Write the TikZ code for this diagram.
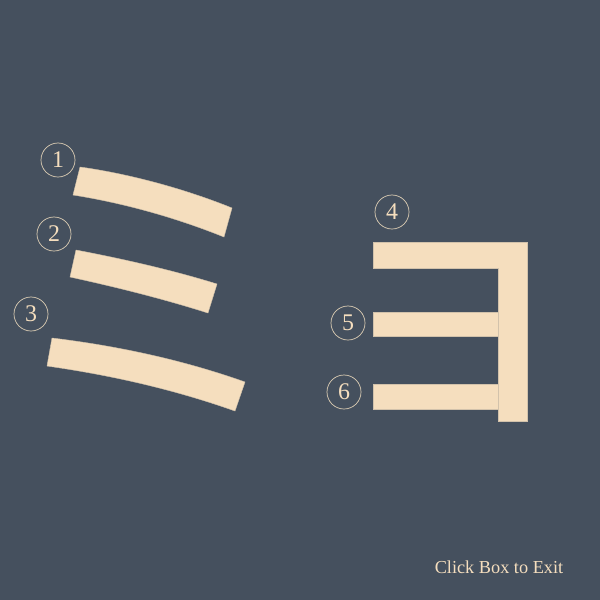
\documentclass[tikz,border=0pt]{standalone}
\usepackage{fontspec}
\setmainfont{Liberation Serif}
\usepackage{xcolor}
\usepackage{tikz}
\definecolor{slatebg}{RGB}{69,80,94}
\definecolor{wheatfill}{RGB}{245,222,190}
\definecolor{ringline}{RGB}{220,205,180}

\begin{document}
\begin{tikzpicture}[
  x=0.025cm, y=-0.025cm,
  stroke/.style = {fill=wheatfill, draw=wheatfill!80!slatebg, line width=0.3pt},
  num/.style    = {circle, draw=ringline, line width=0.5pt, text=wheatfill,
                   minimum size=0.85cm, inner sep=0pt,
                   font=\fontsize{17}{19}\selectfont},
  lab/.style    = {text=wheatfill, font=\fontsize{13}{15}\selectfont}
]
\fill[slatebg] (0,0) rectangle (600,600);
\useasboundingbox (0,0) rectangle (600,600);

%% ===== left: three slanted strokes =====
\draw[stroke] (80,167) .. controls (130,174) and (185,189) .. (232,208)
  -- (224,237) .. controls (177,218) and (124,203) .. (73,195) -- cycle;
\draw[stroke] (76,250) .. controls (123,259) and (172,270) .. (217,284)
  -- (208,313) .. controls (164,299) and (116,287) .. (70,277) -- cycle;
\draw[stroke] (52,338) .. controls (118,346) and (183,360) .. (245,382)
  -- (235,411) .. controls (173,389) and (110,375) .. (47,366) -- cycle;

\node[num] (n1) at (58,160) {1};
\node[num] (n2) at (54,234) {2};
\node[num] (n3) at (31,314) {3};

%% ===== right: the three-bar shape =====
\draw[stroke] (373,242) -- (527,242) -- (527,421) -- (498,421)
  -- (498,268) -- (373,268) -- cycle;
\draw[stroke] (373,312) rectangle (498,336);
\draw[stroke] (373,384) rectangle (498,409);

\node[num] (n4) at (392,212) {4};
\node[num] (n5) at (348,323) {5};
\node[num] (n6) at (344,392) {6};

\node[lab] (exit) at (499,567) {Click Box to Exit};

\end{tikzpicture}
\end{document}
